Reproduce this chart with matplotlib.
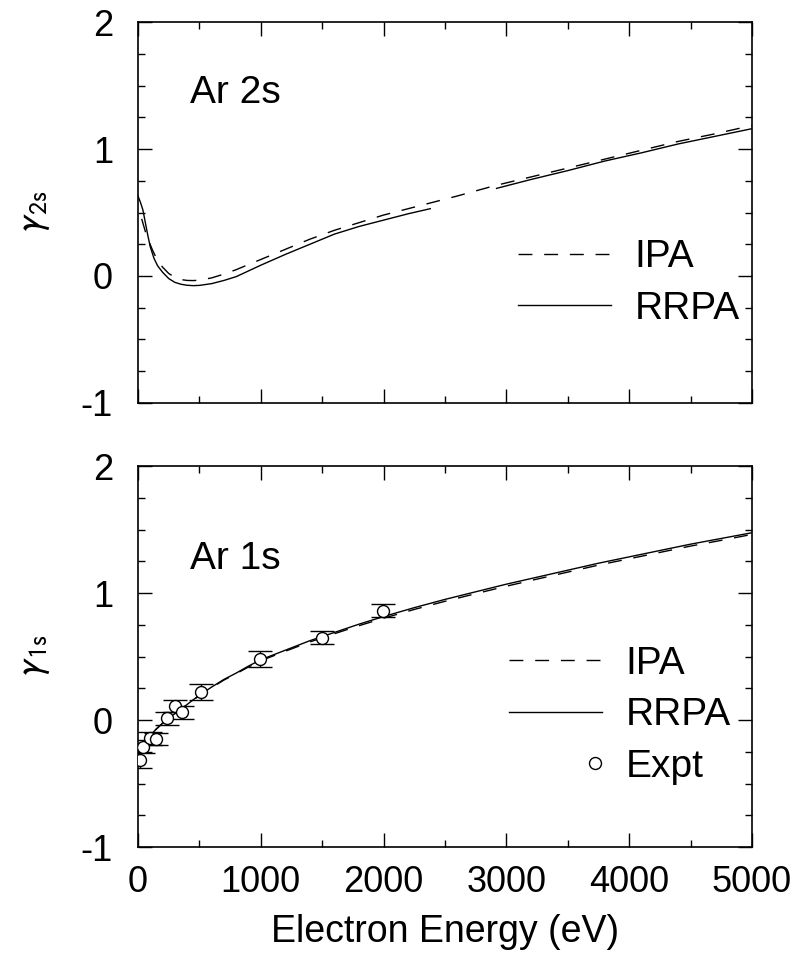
import numpy as np
import matplotlib
matplotlib.use("Agg")
import matplotlib.pyplot as plt
from matplotlib.lines import Line2D
from matplotlib.legend_handler import HandlerLine2D
from matplotlib.ticker import MultipleLocator

plt.rcParams['font.family'] = ['Liberation Sans', 'DejaVu Sans']
plt.rcParams['axes.unicode_minus'] = False

# Ar 2s, gamma parameter (nan = gap in the drawn curve)
e_2s_rrpa = [0, 20, 40, 60, 80, 100, 130, 160, 200, 250, 300, 350, 400, 450, 500, 600, 700,
             800, 900, 1000, 1200, 1400, 1600, 1800, 2000, 2200, 2380, np.nan,
             2920, 3200, 3500, 3800, 4100, 4400, 4700, 5000]
g_2s_rrpa = [0.63, 0.58, 0.52, 0.42, 0.32, 0.23, 0.14, 0.08, 0.03, -0.02, -0.05, -0.065,
             -0.073, -0.076, -0.074, -0.06, -0.035, -0.005, 0.04, 0.085, 0.17, 0.25, 0.33,
             0.39, 0.44, 0.49, 0.53, np.nan,
             0.69, 0.76, 0.83, 0.905, 0.97, 1.04, 1.10, 1.16]
e_2s_ipa = [30, 60, 90, 120, 160, 200, 250, 300, 350, 400, 450, 500, 600, 700, 800, 1000,
            1200, 1400, 1600, 1800, 2000, 2200, 2400, 2600, 2900, 3200, 3500, 3800, 4100,
            4400, 4700, 5000]
g_2s_ipa = [0.45, 0.35, 0.27, 0.20, 0.12, 0.07, 0.02, -0.01, -0.028, -0.035, -0.036, -0.033,
            -0.015, 0.015, 0.05, 0.13, 0.21, 0.29, 0.36, 0.42, 0.48, 0.53, 0.58, 0.63, 0.71,
            0.78, 0.85, 0.92, 0.99, 1.06, 1.12, 1.185]

# Ar 1s
e_1s_rrpa = [30, 60, 100, 150, 200, 250, 300, 370, 450, 500, 600, 700, 800, 900, 1000, 1200,
             1400, 1600, 1800, 2000, 2250, 2500, 2750, 3000, 3250, 3500, 3750, 4000, 4250,
             4500, 4750, 5000]
g_1s_rrpa = [-0.25, -0.18, -0.12, -0.07, -0.025, 0.015, 0.05, 0.10, 0.16, 0.195, 0.26, 0.32,
             0.37, 0.425, 0.475, 0.55, 0.625, 0.69, 0.755, 0.815, 0.885, 0.95, 1.01, 1.07,
             1.125, 1.18, 1.235, 1.285, 1.335, 1.385, 1.43, 1.475]
e_1s_ipa = [30, 60, 100, 150, 200, 250, 300, 370, 450, 500, 600, 700, 800, 900, 1000, 1200,
            1400, 1600, 1800, 2000, 2250, 2500, 2750, 3000, 3250, 3500, 3750, 4000, 4250,
            4500, 4750, 5000]
g_1s_ipa = [-0.25, -0.18, -0.12, -0.07, -0.025, 0.015, 0.05, 0.10, 0.158, 0.192, 0.255, 0.315,
            0.365, 0.418, 0.467, 0.542, 0.615, 0.68, 0.743, 0.802, 0.871, 0.935, 0.995, 1.054,
            1.11, 1.165, 1.22, 1.27, 1.32, 1.37, 1.415, 1.462]

# experiment
e_expt = [16, 43, 98, 147, 239, 301, 361, 513, 994, 1496, 1998]
g_expt = [-0.315, -0.21, -0.145, -0.15, 0.013, 0.11, 0.06, 0.22, 0.48, 0.65, 0.86]
err_expt = [0.06, 0.05, 0.05, 0.045, 0.05, 0.05, 0.05, 0.06, 0.06, 0.055, 0.05]

DASH = (0, (10, 8.5))
TICK_FS = 26
LABEL_FS = 27
TEXT_FS = 28


class RightMarkerHandler(HandlerLine2D):
    # legend marker drawn at the right end of the handle, not the centre
    def create_artists(self, legend, orig_handle, xdescent, ydescent, width, height,
                       fontsize, trans):
        m = Line2D([-xdescent + 0.92 * width], [(height - ydescent) / 2])
        self.update_prop(m, orig_handle, legend)
        m.set_linestyle('none')
        m.set_transform(trans)
        return [m]


def style_axes(ax, show_xlabels):
    ax.set_xlim(0, 5000)
    ax.set_ylim(-1, 2)
    ax.xaxis.set_major_locator(MultipleLocator(1000))
    ax.xaxis.set_minor_locator(MultipleLocator(500))
    ax.yaxis.set_major_locator(MultipleLocator(1))
    ax.yaxis.set_minor_locator(MultipleLocator(0.25))
    ax.tick_params(which='both', direction='in', top=True, right=True, width=1.0)
    ax.tick_params(which='major', length=10)
    ax.tick_params(which='minor', length=5)
    ax.tick_params(axis='y', which='major', labelsize=TICK_FS, pad=18)
    ax.tick_params(axis='x', which='major', labelsize=TICK_FS, pad=13,
                   labelbottom=show_xlabels)
    for sp in ax.spines.values():
        sp.set_linewidth(1.2)


fig = plt.figure(figsize=(7.99, 9.57), dpi=100)
ax1 = fig.add_axes([0.1727, 0.5789, 0.7685, 0.3981])
ax2 = fig.add_axes([0.1727, 0.1149, 0.7685, 0.3981])

leg_kw = dict(loc='center right', frameon=False, fontsize=TEXT_FS, handlelength=2.4,
              handletextpad=0.6, labelspacing=0.4, borderpad=0, borderaxespad=0)

# top panel
ax1.plot(e_2s_ipa, g_2s_ipa, color='black', lw=1.0, ls=DASH, label='IPA')
ax1.plot(e_2s_rrpa, g_2s_rrpa, color='black', lw=1.0, label='RRPA')
style_axes(ax1, False)
ax1.text(0.085, 0.787, 'Ar 2s', transform=ax1.transAxes, fontsize=TEXT_FS, va='baseline')
ax1.set_ylabel(r'$\gamma_{\mathrm{2s}}$', fontsize=LABEL_FS, math_fontfamily='stixsans')
ax1.yaxis.set_label_coords(-0.14, 0.5)
ax1.legend(bbox_to_anchor=(0.98, 0.315), **leg_kw)

# bottom panel
ax2.plot(e_1s_ipa, g_1s_ipa, color='black', lw=1.0, ls=DASH)
ax2.plot(e_1s_rrpa, g_1s_rrpa, color='black', lw=1.0)
ax2.errorbar(e_expt, g_expt, yerr=err_expt, fmt='o', ms=8.6, mfc='white', mec='black',
             mew=1.0, ecolor='black', elinewidth=1.0, capsize=8.5, capthick=1.0, zorder=3)
style_axes(ax2, True)
ax2.text(0.085, 0.73, 'Ar 1s', transform=ax2.transAxes, fontsize=TEXT_FS, va='baseline')
ax2.set_ylabel(r'$\gamma_{\mathrm{1s}}$', fontsize=LABEL_FS, math_fontfamily='stixsans')
ax2.yaxis.set_label_coords(-0.14, 0.5)
ax2.set_xlabel('Electron Energy (eV)', fontsize=LABEL_FS, labelpad=10)

h_ipa = Line2D([], [], color='black', lw=1.0, ls=DASH)
h_rrpa = Line2D([], [], color='black', lw=1.0)
h_expt = Line2D([], [], ls='none', marker='o', ms=8.6, mfc='white', mec='black', mew=1.0)
ax2.legend([h_ipa, h_rrpa, h_expt], ['IPA', 'RRPA', 'Expt'],
           bbox_to_anchor=(0.965, 0.346), handler_map={h_expt: RightMarkerHandler()},
           **leg_kw)

fig.savefig('out.png', dpi=100)
